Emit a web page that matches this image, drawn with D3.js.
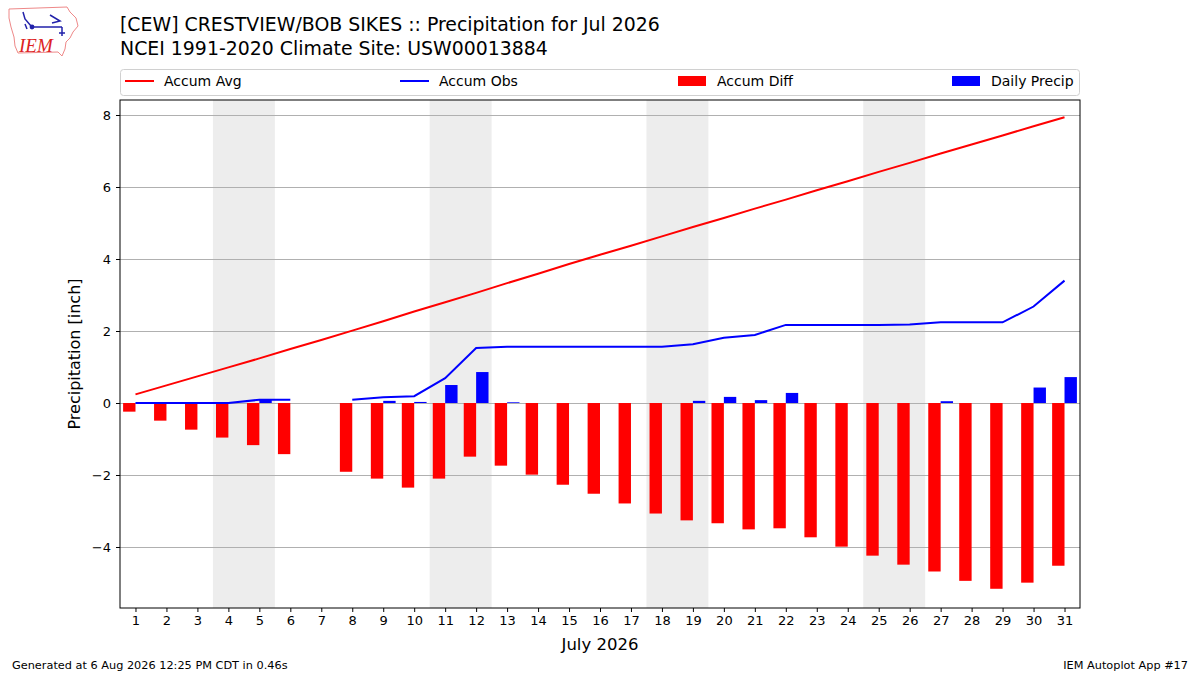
<!DOCTYPE html>
<html>
<head>
<meta charset="utf-8">
<script src="https://cdn.jsdelivr.net/npm/d3@7"></script>
<style>
  body { margin: 0; background: #fff; }
  svg { font-family: "DejaVu Sans", sans-serif; display: block; }
</style>
</head>
<body>
<div id="chart"></div>
<script>
// day of month
var days = d3.range(1, 32);
// accumulated climatology (inch)
var accumAvg = [0.24, 0.49, 0.74, 0.99, 1.24, 1.50, 1.75, 2.01, 2.27, 2.54, 2.80, 3.06, 3.33, 3.59, 3.86, 4.12,
                4.37, 4.63, 4.89, 5.14, 5.40, 5.65, 5.91, 6.16, 6.42, 6.67, 6.93, 7.18, 7.43, 7.69, 7.94];
// accumulated observed, day 7 missing
var accumObs = [0, 0, 0, 0, 0.09, 0.09, null, 0.09, 0.16, 0.19, 0.69, 1.53, 1.56, 1.56, 1.56, 1.56,
                1.56, 1.56, 1.63, 1.81, 1.89, 2.17, 2.17, 2.17, 2.17, 2.18, 2.24, 2.24, 2.24, 2.68, 3.40];
var accumDiff = [-0.24, -0.49, -0.74, -0.96, -1.17, -1.42, null, -1.91, -2.10, -2.35, -2.10, -1.49, -1.74, -1.99, -2.27, -2.52,
                 -2.79, -3.07, -3.26, -3.34, -3.51, -3.48, -3.73, -3.99, -4.24, -4.49, -4.68, -4.94, -5.16, -4.99, -4.52];
var dailyPrecip = [0, 0, 0, 0, 0.09, 0, null, 0, 0.06, 0.03, 0.50, 0.86, 0.02, 0, 0, 0,
                   0, 0, 0.06, 0.17, 0.08, 0.28, 0, 0, 0, 0, 0.05, 0, 0, 0.43, 0.72];
// weekends (Sat, Sun)
var weekends = [[4, 5], [11, 12], [18, 19], [25, 26]];
var yTicks = [-4, -2, 0, 2, 4, 6, 8];

var W = 1200, H = 675;
var margin = {top: 100, right: 120, bottom: 67, left: 120},
    width = W - margin.left - margin.right,
    height = H - margin.top - margin.bottom;

var svg = d3.select("#chart").append("svg")
    .attr("width", W)
    .attr("height", H);

// logo, roughly
var logo = svg.append("g");
logo.append("path")
    .attr("d", "M9,9 L67,7 L70,12 L76,18 L78,26 L73,32 L70,38 L66,42 L65,49 L62,56 L58,52 L18,53 L15,46 L14,37 L11,27 L9,18 Z")
    .attr("fill", "none").attr("stroke", "#e88").attr("stroke-width", 1);
logo.append("path")
    .attr("d", "M23,12 L25,19 L31,26 M31,27 L62,27 M50,15 L60,21 L52,23 M62,27 L62,36 M59,33 L65,33 M25,24 L27,29")
    .attr("fill", "none").attr("stroke", "#22a").attr("stroke-width", 1.5);
logo.append("circle").attr("cx", 32).attr("cy", 27).attr("r", 2.4).attr("fill", "#22a");
logo.append("text").attr("x", 19).attr("y", 52)
    .attr("font-family", "'Liberation Serif', serif").attr("font-style", "italic")
    .attr("font-size", 19).attr("fill", "#d22").text("IEM");

// titles
svg.append("text").attr("x", 120).attr("y", 31).attr("font-size", 18.9)
    .text("[CEW] CRESTVIEW/BOB SIKES :: Precipitation for Jul 2026");
svg.append("text").attr("x", 120).attr("y", 55).attr("font-size", 18.9)
    .text("NCEI 1991-2020 Climate Site: USW00013884");

var x = d3.scaleLinear().domain([0.5, 31.5]).range([0, width]);
var y = d3.scaleLinear().domain([-5.694, 8.417]).range([height, 0]);
var dayW = x(1) - x(0);

var g = svg.append("g")
    .attr("transform", "translate(" + margin.left + "," + margin.top + ")");

g.append("defs").append("clipPath").attr("id", "clip")
  .append("rect").attr("width", width).attr("height", height);

// weekend shading
g.selectAll("rect.wk")
    .data(weekends)
    .enter().append("rect").attr("class", "wk")
    .attr("x", function (d) { return x(d[0] - 0.5); })
    .attr("width", function (d) { return x(d[1] + 0.5) - x(d[0] - 0.5); })
    .attr("y", 0).attr("height", height)
    .attr("fill", "#ededed");

// grid
g.append("g")
    .call(d3.axisLeft(y).tickValues(yTicks).tickSize(-width).tickFormat(""))
    .call(function (s) {
      s.select(".domain").remove();
      s.selectAll("line").attr("stroke", "#b0b0b0").attr("stroke-width", 1);
    });

var plot = g.append("g").attr("clip-path", "url(#clip)");

// accum diff bars (left of day)
plot.selectAll("rect.diff")
    .data(days.filter(function (d, i) { return accumDiff[i] != null; }))
    .enter().append("rect").attr("class", "diff")
    .attr("x", function (d) { return x(d - 0.4); })
    .attr("width", dayW * 0.4)
    .attr("y", function (d) { return y(Math.max(0, accumDiff[d - 1])); })
    .attr("height", function (d) { return Math.abs(y(accumDiff[d - 1]) - y(0)); })
    .attr("fill", "#ff0000");

// daily precip bars (right of day)
plot.selectAll("rect.daily")
    .data(days.filter(function (d, i) { return dailyPrecip[i]; }))
    .enter().append("rect").attr("class", "daily")
    .attr("x", function (d) { return x(d); })
    .attr("width", dayW * 0.4)
    .attr("y", function (d) { return y(dailyPrecip[d - 1]); })
    .attr("height", function (d) { return y(0) - y(dailyPrecip[d - 1]); })
    .attr("fill", "#0000ff");

var line = d3.line()
    .defined(function (d) { return d[1] != null; })
    .x(function (d) { return x(d[0]); })
    .y(function (d) { return y(d[1]); });

plot.append("path")
    .datum(days.map(function (d, i) { return [d, accumAvg[i]]; }))
    .attr("d", line)
    .attr("fill", "none").attr("stroke", "#ff0000").attr("stroke-width", 2);

plot.append("path")
    .datum(days.map(function (d, i) { return [d, accumObs[i]]; }))
    .attr("d", line)
    .attr("fill", "none").attr("stroke", "#0000ff").attr("stroke-width", 2);

// axes
var yAxis = g.append("g")
    .call(d3.axisLeft(y).tickValues(yTicks).tickSize(4).tickPadding(5)
      .tickFormat(function (d) { return d < 0 ? "\u2212" + Math.abs(d) : d; }));
var xAxis = g.append("g")
    .attr("transform", "translate(0," + height + ")")
    .call(d3.axisBottom(x).tickValues(days).tickSize(4).tickPadding(4).tickFormat(d3.format("d")));
[xAxis, yAxis].forEach(function (a) {
  a.select(".domain").remove();
  a.selectAll("text").attr("font-size", 13).attr("fill", "#000")
    .attr("font-family", "'DejaVu Sans', sans-serif");
  a.selectAll("line").attr("stroke", "#000");
});

// frame
g.append("rect").attr("width", width).attr("height", height)
    .attr("fill", "none").attr("stroke", "#000").attr("stroke-width", 1);

g.append("text")
    .attr("transform", "translate(-40," + height / 2 + ")rotate(-90)")
    .attr("text-anchor", "middle").attr("font-size", 16)
    .text("Precipitation [inch]");
g.append("text")
    .attr("x", width / 2).attr("y", height + 42)
    .attr("text-anchor", "middle").attr("font-size", 16.5)
    .text("July 2026");

// legend
var leg = svg.append("g");
leg.append("rect")
    .attr("x", 120.5).attr("y", 69.5).attr("width", 959).attr("height", 26).attr("rx", 3)
    .attr("fill", "#fff").attr("stroke", "#d0d0d0");
var legItems = [
  {name: "Accum Avg", color: "#ff0000", type: "line", x: 125},
  {name: "Accum Obs", color: "#0000ff", type: "line", x: 400},
  {name: "Accum Diff", color: "#ff0000", type: "patch", x: 678},
  {name: "Daily Precip", color: "#0000ff", type: "patch", x: 952}
];
legItems.forEach(function (it) {
  if (it.type == "line") {
    leg.append("line").attr("x1", it.x).attr("x2", it.x + 29).attr("y1", 81).attr("y2", 81)
      .attr("stroke", it.color).attr("stroke-width", 2);
  } else {
    leg.append("rect").attr("x", it.x).attr("y", 76).attr("width", 28).attr("height", 10)
      .attr("fill", it.color);
  }
  leg.append("text").attr("x", it.x + 39).attr("y", 86).attr("font-size", 14).text(it.name);
});

// footer
svg.append("text").attr("x", 12).attr("y", 669).attr("font-size", 11.3)
    .text("Generated at 6 Aug 2026 12:25 PM CDT in 0.46s");
svg.append("text").attr("x", 1188).attr("y", 669).attr("font-size", 11.3)
    .attr("text-anchor", "end").text("IEM Autoplot App #17");
</script>
</body>
</html>
